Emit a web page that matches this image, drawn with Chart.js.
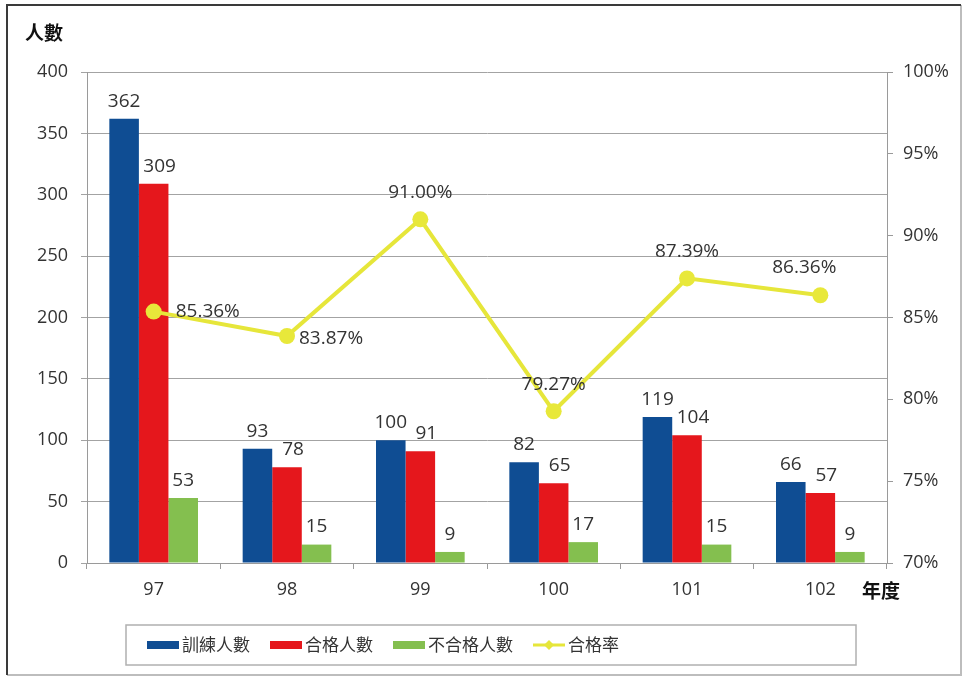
<!DOCTYPE html>
<html>
<head>
<meta charset="utf-8">
<script src="https://cdn.jsdelivr.net/npm/chart.js@4.4.1/dist/chart.umd.min.js"></script>
<style>
	body { margin: 0; background: #fff; }
	#wrap { width: 962px; height: 677px; }
</style>
</head>
<body>
<div id="wrap"><canvas id="chart-lulus" width="962" height="677"></canvas></div>
<script>
	// data
	var tahun = ['97', '98', '99', '100', '101', '102'];
	var jml_latih = [362, 93, 100, 82, 119, 66];
	var jml_lulus = [309, 78, 91, 65, 104, 57];
	var jml_gagal = [53, 15, 9, 17, 15, 9];
	var persen_lulus = [85.36, 83.87, 91.00, 79.27, 87.39, 86.36];
	var nama_seri = ['訓練人數', '合格人數', '不合格人數', '合格率'];
	var tick_kiri = [0, 50, 100, 150, 200, 250, 300, 350, 400];
	var tick_kanan = [70, 75, 80, 85, 90, 95, 100];

	// where each rate label sits relative to its point
	var posisi_label = ['right', 'right-low', 'top', 'top', 'top', 'top-left'];

	var warna = ['#0f4d93', '#e5171c', '#84bf4f', '#e6e63a'];
	var fontAngka = '"Open Sans", "Liberation Sans", sans-serif';
	var fontCjk = '"Noto Sans CJK TC", "Noto Sans CJK SC", sans-serif';

	var pluginLabel = {
		id: 'labelNilai',
		beforeDraw: function(chart) {
			var ctx = chart.ctx;
			ctx.save();
			ctx.fillStyle = '#fff';
			ctx.fillRect(0, 0, chart.width, chart.height);
			// frame
			ctx.lineWidth = 2;
			ctx.strokeStyle = '#bdbdbd';
			ctx.beginPath();
			ctx.moveTo(961, 5); ctx.lineTo(961, 675); ctx.lineTo(7, 675);
			ctx.stroke();
			ctx.strokeStyle = '#3a3a3a';
			ctx.beginPath();
			ctx.moveTo(7, 675); ctx.lineTo(7, 5); ctx.lineTo(961, 5);
			ctx.stroke();
			ctx.restore();
		},
		afterDatasetsDraw: function(chart) {
			var ctx = chart.ctx;
			ctx.save();
			ctx.fillStyle = '#333';
			ctx.font = '19px ' + fontAngka;
			ctx.textAlign = 'center';
			ctx.textBaseline = 'bottom';
			[0, 1, 2].forEach(function(d) {
				var meta = chart.getDatasetMeta(d);
				meta.data.forEach(function(bar, i) {
					var v = chart.data.datasets[d].data[i];
					ctx.fillText(v, bar.x + (d == 1 ? 6 : 0), bar.y - 8);
				});
			});
			var metaLine = chart.getDatasetMeta(3);
			metaLine.data.forEach(function(pt, i) {
				var txt = persen_lulus[i].toFixed(2) + '%';
				var p = posisi_label[i];
				if (p == 'right') {
					ctx.textAlign = 'left'; ctx.textBaseline = 'middle';
					ctx.fillText(txt, pt.x + 22, pt.y);
				} else if (p == 'right-low') {
					ctx.textAlign = 'left'; ctx.textBaseline = 'middle';
					ctx.fillText(txt, pt.x + 12, pt.y + 3);
				} else if (p == 'top-left') {
					ctx.textAlign = 'center'; ctx.textBaseline = 'bottom';
					ctx.fillText(txt, pt.x - 16, pt.y - 18);
				} else {
					ctx.textAlign = 'center'; ctx.textBaseline = 'bottom';
					ctx.fillText(txt, pt.x, pt.y - 17);
				}
			});
			ctx.restore();
		},
		afterDraw: function(chart) {
			var ctx = chart.ctx;
			ctx.save();
			// axis titles
			ctx.fillStyle = '#111';
			ctx.font = 'bold 19px ' + fontCjk;
			ctx.textBaseline = 'middle';
			ctx.textAlign = 'left';
			ctx.fillText('人數', 25, 33);
			ctx.fillText('年度', 862, 591);

			// legend
			var box = { x: 126, y: 625, w: 730, h: 40 };
			ctx.strokeStyle = '#b0b0b0';
			ctx.lineWidth = 1.5;
			ctx.strokeRect(box.x, box.y, box.w, box.h);
			ctx.font = '17px ' + fontCjk;
			ctx.fillStyle = '#333';
			var cy = box.y + box.h / 2;
			var x = box.x + 21;
			nama_seri.forEach(function(nama, i) {
				if (i < 3) {
					ctx.fillStyle = warna[i];
					ctx.fillRect(x, cy - 4, 32, 8);
				} else {
					ctx.strokeStyle = warna[3];
					ctx.lineWidth = 3;
					ctx.beginPath();
					ctx.moveTo(x, cy); ctx.lineTo(x + 32, cy);
					ctx.stroke();
					ctx.fillStyle = warna[3];
					ctx.beginPath();
					ctx.moveTo(x + 16, cy - 5); ctx.lineTo(x + 21, cy);
					ctx.lineTo(x + 16, cy + 5); ctx.lineTo(x + 11, cy);
					ctx.closePath();
					ctx.fill();
				}
				ctx.fillStyle = '#333';
				ctx.textAlign = 'left';
				ctx.fillText(nama, x + 35, cy);
				x += 35 + ctx.measureText(nama).width + 20;
			});
			ctx.restore();
		}
	};

	var dsBar = function(i, data) {
		return {
			type: 'bar',
			label: nama_seri[i],
			data: data,
			backgroundColor: warna[i],
			yAxisID: 'y',
			order: 1,
			barPercentage: 1,
			categoryPercentage: 0.665
		};
	};

	var configChartLulus = {
		data: {
			labels: tahun,
			datasets: [
				dsBar(0, jml_latih),
				dsBar(1, jml_lulus),
				dsBar(2, jml_gagal),
				{
					type: 'line',
					label: nama_seri[3],
					data: persen_lulus,
					yAxisID: 'y1',
					order: 0,
					borderColor: warna[3],
					backgroundColor: warna[3],
					borderWidth: 4,
					pointRadius: 8,
					pointBorderWidth: 0,
					pointBackgroundColor: '#e8e83a',
					tension: 0
				}
			]
		},
		options: {
			responsive: false,
			animation: false,
			layout: {
				padding: { top: 72, left: 10, right: 10, bottom: 79 }
			},
			plugins: {
				legend: { display: false },
				tooltip: { enabled: false },
				title: { display: false }
			},
			scales: {
				x: {
					afterFit: function(s) { s.height = 35; },
					grid: { drawOnChartArea: false, drawTicks: true, tickLength: 6, color: '#9a9a9a' },
					border: { color: '#9a9a9a' },
					ticks: { padding: 10, color: '#333', font: { family: fontAngka, size: 18 } }
				},
				y: {
					position: 'left',
					min: 0,
					max: 400,
					afterFit: function(s) { s.width = 77; },
					afterBuildTicks: function(s) { s.ticks = tick_kiri.map(function(v) { return { value: v }; }); },
					grid: { color: '#a3a3a3', tickLength: 6 },
					border: { color: '#9a9a9a' },
					ticks: { padding: 13, color: '#333', font: { family: fontAngka, size: 18 } }
				},
				y1: {
					position: 'right',
					min: 70,
					max: 100,
					afterFit: function(s) { s.width = 65; },
					afterBuildTicks: function(s) { s.ticks = tick_kanan.map(function(v) { return { value: v }; }); },
					grid: { drawOnChartArea: false, tickLength: 6, color: '#9a9a9a' },
					border: { color: '#9a9a9a' },
					ticks: {
						padding: 10, color: '#333', font: { family: fontAngka, size: 18 },
						callback: function(v) { return v + '%'; }
					}
				}
			}
		},
		plugins: [pluginLabel]
	};

	var ctx = document.getElementById('chart-lulus').getContext('2d');
	chartLulus = new Chart(ctx, configChartLulus);
</script>
</body>
</html>
